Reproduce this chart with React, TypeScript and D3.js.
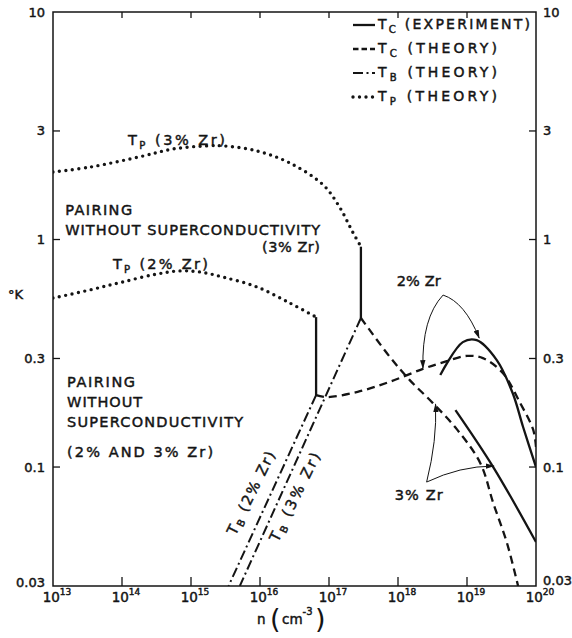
import React from 'react';
import * as d3 from 'd3';

// values: carrier density n (cm^-3) and temperature (°K)
const tp3N = [1e13, 3.4e13, 1.8e14, 5.5e14, 1.7e15, 2.9e15, 9.1e15, 2.7e16, 8.2e16, 1.4e17, 2.2e17, 2.9e17];
const tp3T = [1.98, 2.08, 2.31, 2.5, 2.58, 2.58, 2.45, 2.17, 1.74, 1.4, 1.08, 0.93];
const tp2N = [1e13, 3.4e13, 1e14, 3.2e14, 6.9e14, 1.35e15, 2.9e15, 9.1e15, 2.7e16, 6.5e16];
const tp2T = [0.553, 0.6, 0.65, 0.705, 0.728, 0.72, 0.684, 0.618, 0.526, 0.456];

const jump2N = [6.5e16, 6.5e16];
const jump2T = [0.456, 0.207];
const jump3N = [2.9e17, 2.9e17];
const jump3T = [0.93, 0.452];

const tb2N = [6.5e16, 3.5e15];
const tb2T = [0.207, 0.03];
const tb3N = [2.9e17, 5.1e15];
const tb3T = [0.452, 0.03];

const tcTh3N = [2.9e17, 7.6e17, 1.48e18, 3.2e18, 7.2e18, 1.56e19, 2.4e19, 3.8e19, 5.5e19];
const tcTh3T = [0.452, 0.305, 0.241, 0.191, 0.146, 0.104, 0.0695, 0.0463, 0.03];
const tcTh2N = [6.5e16, 9.3e16, 2.6e17, 7.6e17, 2.3e18, 5.1e18, 1e19, 1.7e19, 3.3e19, 5.9e19, 9.1e19, 1e20];
const tcTh2T = [0.207, 0.203, 0.214, 0.237, 0.27, 0.292, 0.308, 0.301, 0.259, 0.191, 0.146, 0.1225];

const tcEx2N = [4.1e18, 8.7e18, 1.38e19, 2.7e19, 4.6e19, 6.5e19, 1e20];
const tcEx2T = [0.254, 0.354, 0.361, 0.295, 0.211, 0.15, 0.1];
const tcEx3N = [6.8e18, 2.4e19, 1e20];
const tcEx3T = [0.178, 0.1, 0.0468];

const xTicks = [13, 14, 15, 16, 17, 18, 19, 20];
const yTicks = [10, 3, 1, 0.3, 0.1, 0.03];
const yTickLabels = ['10', '3', '1', '0.3', '0.1', '0.03'];

// annotation arrows: [start, control, end] in (n, T)
const arrows: [number, number][][] = [
  [[4.5e18, 0.57], [9.3e18, 0.53], [1.5e19, 0.369]],
  [[4.5e18, 0.57], [2.2e18, 0.452], [2.3e18, 0.272]],
  [[2.6e18, 0.0859], [3.7e18, 0.1315], [3.5e18, 0.189]],
  [[2.6e18, 0.0859], [7.9e18, 0.101], [2.45e19, 0.101]],
];

const W = 572;
const H = 638;
const ink = '#141414';
const font = '"DejaVu Sans", sans-serif';

const x = d3.scaleLog().domain([1e13, 1e20]).range([53, 536]);
const y = d3.scaleLog().domain([0.03, 10]).range([586, 12]);

const zip = (a: number[], b: number[]) => a.map((v, i) => [v, b[i]] as [number, number]);
const line = d3.line<[number, number]>().x(d => x(d[0])).y(d => y(d[1])).curve(d3.curveCatmullRom.alpha(0.5));
const straight = d3.line<[number, number]>().x(d => x(d[0])).y(d => y(d[1]));

const solid = { stroke: ink, strokeWidth: 2.3, fill: 'none' };
const dashed = { ...solid, strokeDasharray: '8 5' };
const dashDot = { ...solid, strokeWidth: 2, strokeDasharray: '10 3.5 2 3.5' };
const dotted = { ...solid, strokeWidth: 3.4, strokeDasharray: '0 6.5', strokeLinecap: 'round' as const };

// heavier lettering like the drafted original
const inkText = { stroke: ink, strokeWidth: 0.45 };

function arrowPath(p: [number, number][]) {
  const path = d3.path();
  path.moveTo(x(p[0][0]), y(p[0][1]));
  path.quadraticCurveTo(x(p[1][0]), y(p[1][1]), x(p[2][0]), y(p[2][1]));
  return path.toString();
}

function Sub({ base, sub, size = 14 }: { base: string; sub: string; size?: number }) {
  return (
    <>
      <tspan>{base}</tspan>
      <tspan fontSize={size * 0.72} dy={4}>{sub}</tspan>
      <tspan dy={-4}> </tspan>
    </>
  );
}

export default function App() {
  const legend = [
    { style: solid, base: 'T', sub: 'C', text: '(EXPERIMENT)', len: 152 },
    { style: { ...dashed, strokeDasharray: '5.5 3' }, base: 'T', sub: 'C', text: '(THEORY)', len: 119 },
    { style: dashDot, base: 'T', sub: 'B', text: '(THEORY)', len: 119 },
    { style: dotted, base: 'T', sub: 'P', text: '(THEORY)', len: 119 },
  ];

  return (
    <svg width={W} height={H} style={{ position: 'absolute', left: 0, top: 0, background: '#fff' }}
      fontFamily={font} fill={ink}>
      <defs>
        <clipPath id="plot">
          <rect x={53} y={12} width={483} height={574} />
        </clipPath>
        <marker id="head" viewBox="0 0 10 6" refX={9} refY={3} markerWidth={9} markerHeight={6}
          markerUnits="userSpaceOnUse" orient="auto">
          <path d="M0,0 L10,3 L0,6 Z" fill={ink} />
        </marker>
      </defs>

      {/* frame */}
      <rect x={53} y={12} width={483} height={574} fill="none" stroke={ink} strokeWidth={1.5} />
      {xTicks.slice(1, -1).map(e => (
        <g key={e} stroke={ink} strokeWidth={1.3}>
          <line x1={x(10 ** e)} x2={x(10 ** e)} y1={586} y2={577} />
          <line x1={x(10 ** e)} x2={x(10 ** e)} y1={12} y2={18} />
        </g>
      ))}
      {yTicks.slice(1, -1).map(v => (
        <g key={v} stroke={ink} strokeWidth={1.3}>
          <line x1={53} x2={60} y1={y(v)} y2={y(v)} />
          <line x1={536} x2={529} y1={y(v)} y2={y(v)} />
        </g>
      ))}

      {/* tick labels */}
      <g {...inkText}>
        {xTicks.map(e => (
          <text key={e} x={x(10 ** e) + 4} y={602} textAnchor="middle" fontSize={13.5}>
            10<tspan fontSize={9} dy={-7}>{e}</tspan>
          </text>
        ))}
        {yTicks.map((v, i) => (
          <g key={v} fontSize={13}>
            <text x={45} y={i === 5 ? y(v) - 4 : y(v)} textAnchor="end" dominantBaseline="central">{yTickLabels[i]}</text>
            <text x={543} y={i === 5 ? y(v) - 6 : y(v)} dominantBaseline="central">{yTickLabels[i]}</text>
          </g>
        ))}
        <text x={8} y={299} fontSize={13}>°K</text>
        <g fontSize={13.5}>
          <text x={257} y={624}>n</text>
          <text x={270} y={628} fontSize={27} strokeWidth={0}>(</text>
          <text x={282} y={624}>cm<tspan fontSize={10} dy={-9}>-3</tspan></text>
          <text x={315} y={628} fontSize={27} strokeWidth={0}>)</text>
        </g>
      </g>

      {/* curves */}
      <g clipPath="url(#plot)">
        <path d={line(zip(tp3N, tp3T))!} {...dotted} />
        <path d={line(zip(tp2N, tp2T))!} {...dotted} />
        <path d={straight(zip(jump2N, jump2T))!} {...solid} />
        <path d={straight(zip(jump3N, jump3T))!} {...solid} />
        <path d={straight(zip(tb2N, tb2T))!} {...dashDot} />
        <path d={straight(zip(tb3N, tb3T))!} {...dashDot} />
        <path d={line(zip(tcTh3N, tcTh3T))!} {...dashed} />
        <path d={line(zip(tcTh2N, tcTh2T))!} {...dashed} />
        <path d={line(zip(tcEx2N, tcEx2T))!} {...solid} />
        <path d={line(zip(tcEx3N, tcEx3T))!} {...solid} />
        {arrows.map((a, i) => (
          <path key={i} d={arrowPath(a)} fill="none" stroke={ink} strokeWidth={1} markerEnd="url(#head)" />
        ))}
      </g>

      {/* region and curve labels */}
      <g fontSize={14.5} {...inkText}>
        <text x={x(1.22e14)} y={y(2.6)} textLength={97} lengthAdjust="spacing"><Sub base="T" sub="P" />(3% Zr)</text>
        <text x={x(7.4e13)} y={y(0.741)} textLength={95} lengthAdjust="spacing"><Sub base="T" sub="P" />(2% Zr)</text>
        <text x={x(1.5e13)} y={y(1.28)} textLength={67} lengthAdjust="spacing">PAIRING</text>
        <text x={x(1.5e13)} y={y(1.047)} textLength={255} lengthAdjust="spacing">WITHOUT SUPERCONDUCTIVITY</text>
        <text x={x(1.07e16)} y={y(0.88)} textLength={58} lengthAdjust="spacing">(3% Zr)</text>
        <text x={x(1.6e13)} y={y(0.225)} textLength={68} lengthAdjust="spacing">PAIRING</text>
        <text x={x(1.6e13)} y={y(0.184)} textLength={75} lengthAdjust="spacing">WITHOUT</text>
        <text x={x(1.6e13)} y={y(0.15)} textLength={176} lengthAdjust="spacing">SUPERCONDUCTIVITY</text>
        <text x={x(1.6e13)} y={y(0.1107)} textLength={146} lengthAdjust="spacing">(2% AND 3% Zr)</text>
        <text x={x(2.0e18)} y={y(0.625)} textAnchor="middle" textLength={44} lengthAdjust="spacing">2% Zr</text>
        <text x={x(2.0e18)} y={y(0.0716)} textAnchor="middle" textLength={48} lengthAdjust="spacing">3% Zr</text>
        <text transform={`translate(${x(7.4e15)},${y(0.0769)}) rotate(-64)`} textAnchor="middle"
          dominantBaseline="central" textLength={91} lengthAdjust="spacing"><Sub base="T" sub="B" />(2% Zr)</text>
        <text transform={`translate(${x(3.2e16)},${y(0.0738)}) rotate(-64)`} textAnchor="middle"
          dominantBaseline="central" textLength={97} lengthAdjust="spacing"><Sub base="T" sub="B" />(3% Zr)</text>
      </g>

      {/* legend */}
      {legend.map((l, i) => {
        const ly = 25 + i * 24;
        return (
          <g key={i}>
            <line x1={353} x2={375} y1={ly} y2={ly} {...l.style} />
            <text x={378} y={ly + 4} fontSize={14} textLength={l.len} lengthAdjust="spacing" {...inkText}>
              <Sub base={l.base} sub={l.sub} size={14} />{l.text}
            </text>
          </g>
        );
      })}
    </svg>
  );
}
